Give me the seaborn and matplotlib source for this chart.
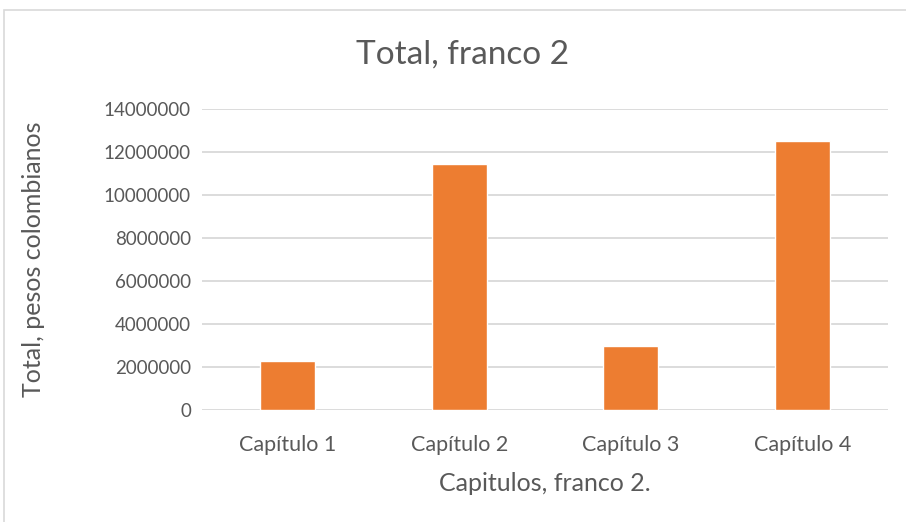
import pandas as pd
import numpy as np
import matplotlib.pyplot as plt
import seaborn as sns
from matplotlib.patches import Rectangle

# --- data ---
capitulos = ['Capítulo 1', 'Capítulo 2', 'Capítulo 3', 'Capítulo 4']
totales = [2260000, 11420000, 2960000, 12510000]
y_ticks = [0, 2000000, 4000000, 6000000, 8000000, 10000000, 12000000, 14000000]

df = pd.DataFrame({'Capitulo': capitulos, 'Total': totales})

sns.set_style('white')
plt.rcParams['font.family'] = ['Lato', 'DejaVu Sans']
text_color = '#595959'
grid_color = '#D9D9D9'

fig = plt.figure(figsize=(9.06, 5.22), dpi=100)
W, H = 906, 522
ax = fig.add_axes([202 / W, (H - 410) / H, (888 - 202) / W, (410 - 109) / H])

sns.barplot(x='Capitulo', y='Total', data=df, color='#ED7D31', width=0.32,
            saturation=1, ax=ax, zorder=3)

ax.set_ylim(0, 14000000)
ax.set_yticks(y_ticks)
ax.set_yticklabels([str(v) for v in y_ticks])
ax.set_xlim(-0.5, 3.5)
ax.yaxis.grid(True, color=grid_color, linewidth=1.3, zorder=0)
ax.set_axisbelow(True)
for s in ax.spines.values():
    s.set_visible(False)
ax.tick_params(axis='both', length=0, labelcolor=text_color)
ax.tick_params(axis='x', labelsize=15.5, pad=18)
ax.tick_params(axis='y', labelsize=13.5, pad=8)

ax.set_xlabel('Capitulos, franco 2.', fontsize=18, color=text_color, labelpad=12)
ax.set_ylabel('Total, pesos colombianos', fontsize=18, color=text_color, labelpad=42)
fig.text(463 / W, 1 - 55 / H, 'Total, franco 2', ha='center', va='center',
         fontsize=24, color=text_color)

# chart border
fig.patches.append(Rectangle((4 / W, -0.01), 1.0, 1 - 10 / H + 0.01,
                             transform=fig.transFigure, fill=False,
                             edgecolor=grid_color, linewidth=1.2))

plt.savefig('out.png', dpi=100)
